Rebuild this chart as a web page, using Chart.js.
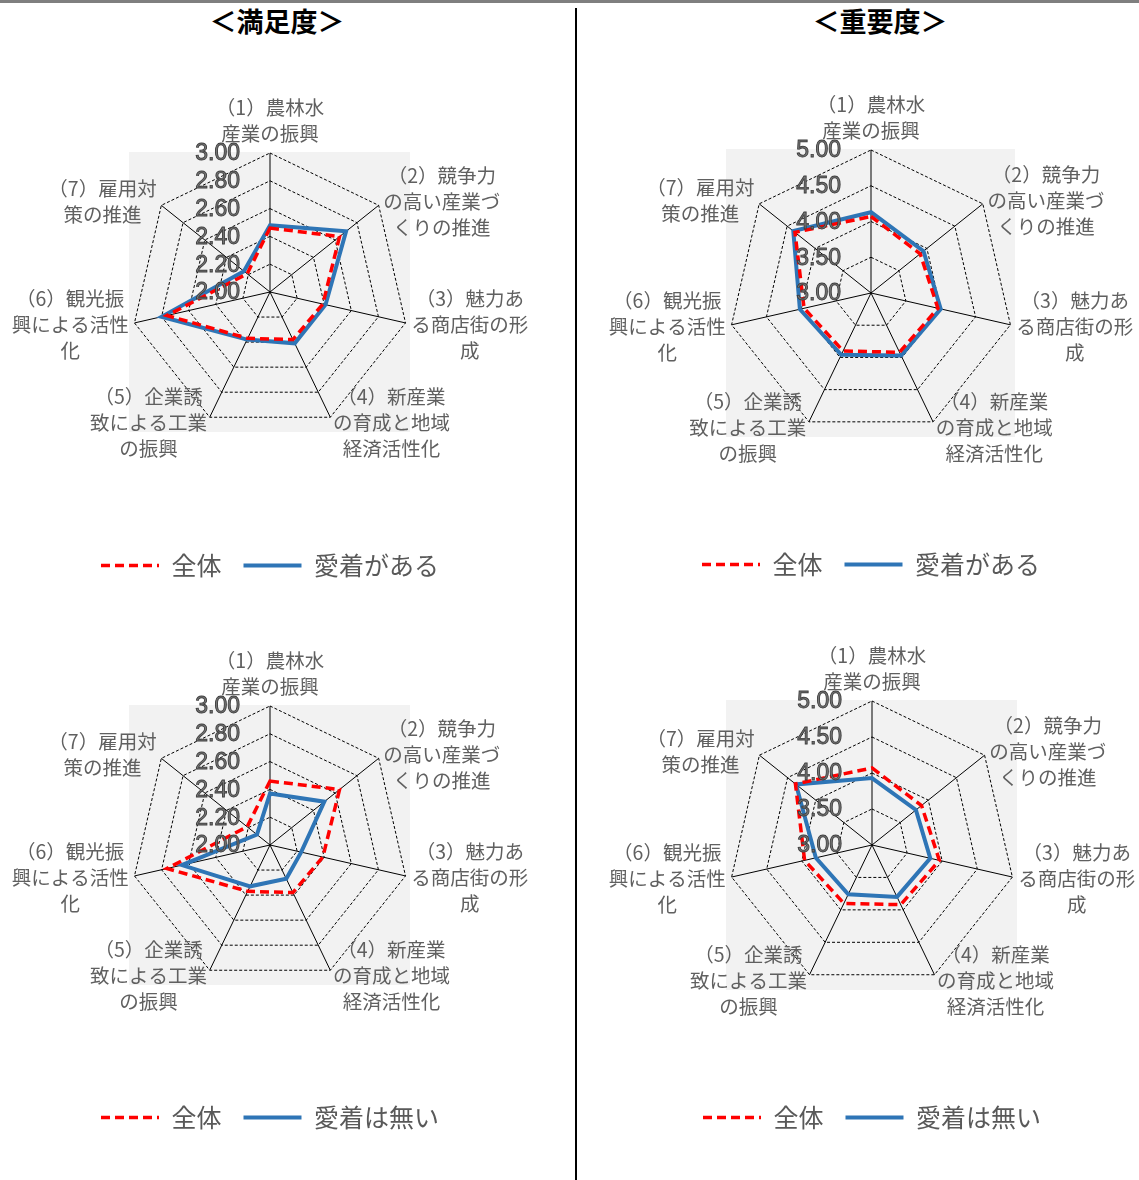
<!DOCTYPE html>
<html lang="ja">
<head>
<meta charset="utf-8">
<title>満足度・重要度 レーダーチャート</title>
<script src="https://cdn.jsdelivr.net/npm/chart.js@4.4.1/dist/chart.umd.min.js"></script>
<style>
  html, body { margin: 0; padding: 0; background: #fff; }
  body { width: 1139px; height: 1180px; position: relative; overflow: hidden; }
  .topline { position: absolute; left: 0; top: 0; width: 1139px; height: 3px; background: #7f7f7f; }
  .vline { position: absolute; left: 575px; top: 8px; width: 2px; height: 1172px; background: #000; }
  .title { position: absolute; top: 4px; width: 240px; text-align: center; font-family: "Noto Sans CJK JP", sans-serif;
           font-weight: 700; font-size: 27px; line-height: 34px; color: #000; }
  canvas { position: absolute; }
</style>
</head>
<body>
<div class="topline"></div>
<div class="vline"></div>
<div class="title" style="left:157px;">＜満足度＞</div>
<div class="title" style="left:760px;">＜重要度＞</div>
<canvas id="c1" width="560" height="548" style="left:-10px; top:40px;"></canvas>
<canvas id="c2" width="560" height="547" style="left:591px; top:40px;"></canvas>
<canvas id="c3" width="560" height="540" style="left:-10px; top:600px;"></canvas>
<canvas id="c4" width="560" height="540" style="left:592px; top:600px;"></canvas>
<script>
// ---- data ----
const categoryLabels = [
  ['（1）農林水', '産業の振興'],
  ['（2）競争力', 'の高い産業づ', 'くりの推進'],
  ['（3）魅力あ', 'る商店街の形', '成'],
  ['（4）新産業', 'の育成と地域', '経済活性化'],
  ['（5）企業誘', '致による工業', 'の振興'],
  ['（6）観光振', '興による活性', '化'],
  ['（7）雇用対', '策の推進']
];
const satisfactionTicks = ['2.00', '2.20', '2.40', '2.60', '2.80', '3.00'];
const importanceTicks = ['3.00', '3.50', '4.00', '4.50', '5.00'];

const nameAll = '全体';
const nameAttached = '愛着がある';
const nameNotAttached = '愛着は無い';

const satisfactionAll         = [2.46, 2.64, 2.39, 2.38, 2.37, 2.76, 2.21];
const satisfactionAttached    = [2.48, 2.70, 2.41, 2.41, 2.38, 2.80, 2.24];
const satisfactionNotAttached = [2.37, 2.50, 2.23, 2.27, 2.33, 2.65, 2.12];

const importanceAll           = [4.07, 3.88, 3.96, 3.92, 3.90, 3.96, 4.36];
const importanceAttached      = [4.13, 3.94, 4.00, 3.97, 3.96, 4.02, 4.39];
const importanceNotAttached   = [3.93, 3.78, 3.83, 3.80, 3.76, 3.80, 4.35];

// ---- drawing ----
const JP = '"Noto Sans CJK JP", "Noto Sans", sans-serif';

function decorPlugin(tickLabels) {
  return {
    id: 'decor',
    beforeDraw(chart) {
      const s = chart.scales.r, ctx = chart.ctx, R = s.drawingArea;
      ctx.save();
      ctx.fillStyle = '#f2f2f2';
      ctx.fillRect(s.xCenter - R - 2, s.yCenter - R - 1, 2 * R + 3, 2 * R + 2);
      ctx.restore();
    },
    afterDatasetsDraw(chart) {
      const s = chart.scales.r, ctx = chart.ctx;
      ctx.save();
      ctx.font = '23px "Liberation Sans", Arial, sans-serif';
      ctx.textAlign = 'right';
      ctx.textBaseline = 'middle';
      ctx.fillStyle = '#777777';
      ctx.strokeStyle = '#3c3c3c';
      ctx.lineWidth = 0.9;
      s.ticks.forEach((t, k) => {
        const y = s.yCenter - s.getDistanceFromCenterForValue(t.value);
        const txt = tickLabels[k];
        if (txt === undefined) return;
        ctx.fillText(txt, s.xCenter - 30, y + 1);
        ctx.strokeText(txt, s.xCenter - 30, y + 1);
      });
      ctx.restore();
    },
    afterDraw(chart) {
      const s = chart.scales.r, ctx = chart.ctx;
      const lh = 26;
      ctx.save();
      ctx.font = '19.5px ' + JP;
      ctx.fillStyle = '#606060';
      ctx.textAlign = 'center';
      ctx.textBaseline = 'middle';
      chart.data.labels.forEach((lines, i) => {
        const p = s.getPointPosition(i, s.drawingArea + 6);
        const a = s.getIndexAngle(i);
        const sinA = Math.sin(a), cosA = Math.cos(a);
        const w = Math.max(...lines.map(l => ctx.measureText(l).width));
        const h = lines.length * lh;
        let cx;
        if (Math.abs(sinA) < 0.01) cx = p.x;
        else if (sinA > 0) cx = p.x + w / 2;
        else cx = p.x - w / 2;
        const top = cosA > 0.99 ? p.y - h : p.y - h / 2;
        lines.forEach((l, j) => ctx.fillText(l, cx, top + lh * (j + 0.5)));
      });
      ctx.restore();
    }
  };
}

function makeChart(id, tickLabels, allData, groupData, groupName, padTop, titleH) {
  const min = parseFloat(tickLabels[0]);
  const max = parseFloat(tickLabels[tickLabels.length - 1]);
  const step = parseFloat(tickLabels[1]) - min;
  return new Chart(document.getElementById(id), {
    type: 'radar',
    data: {
      labels: categoryLabels,
      datasets: [
        { label: nameAll, data: allData, borderColor: '#ff0000', backgroundColor: '#ff0000',
          borderWidth: 3.5, borderDash: [9, 5], fill: false, pointRadius: 0, pointHoverRadius: 0, tension: 0 },
        { label: groupName, data: groupData, borderColor: '#2e75b6', backgroundColor: '#2e75b6',
          borderWidth: 4, fill: false, pointRadius: 0, pointHoverRadius: 0, tension: 0 }
      ]
    },
    options: {
      responsive: false,
      animation: false,
      events: [],
      layout: { padding: { top: padTop, left: 0, right: 0, bottom: 0 } },
      scales: {
        r: {
          min: min, max: max,
          ticks: { stepSize: Math.round(step * 100) / 100, display: false },
          pointLabels: { display: false },
          grid: { color: '#000', lineWidth: 1, borderDash: [3, 2] },
          border: { dash: [3, 2] },
          angleLines: { color: '#000', lineWidth: 1 }
        }
      },
      plugins: {
        tooltip: { enabled: false },
        legend: {
          position: 'bottom',
          align: 'center',
          title: { display: true, text: '', padding: { top: titleH - 1, bottom: 0 }, font: { size: 1, lineHeight: 1 } },
          labels: {
            usePointStyle: true,
            pointStyleWidth: 58,
            padding: 22,
            color: '#595959',
            font: { size: 25, family: JP },
            generateLabels: (chart) => chart.data.datasets.map((ds, i) => ({
              text: ds.label,
              fillStyle: ds.borderColor,
              strokeStyle: ds.borderColor,
              fontColor: '#595959',
              lineWidth: ds.borderWidth,
              lineDash: ds.borderDash || [],
              lineCap: 'butt',
              pointStyle: 'line',
              hidden: false,
              datasetIndex: i
            }))
          }
        }
      }
    },
    plugins: [decorPlugin(tickLabels)]
  });
}

makeChart('c1', satisfactionTicks, satisfactionAll, satisfactionAttached, nameAttached, 113, 99);
makeChart('c2', importanceTicks, importanceAll, importanceAttached, nameAttached, 110, 93);
makeChart('c3', satisfactionTicks, satisfactionAll, satisfactionNotAttached, nameNotAttached, 106, 98);
makeChart('c4', importanceTicks, importanceAll, importanceNotAttached, nameNotAttached, 101, 93);
</script>
</body>
</html>
